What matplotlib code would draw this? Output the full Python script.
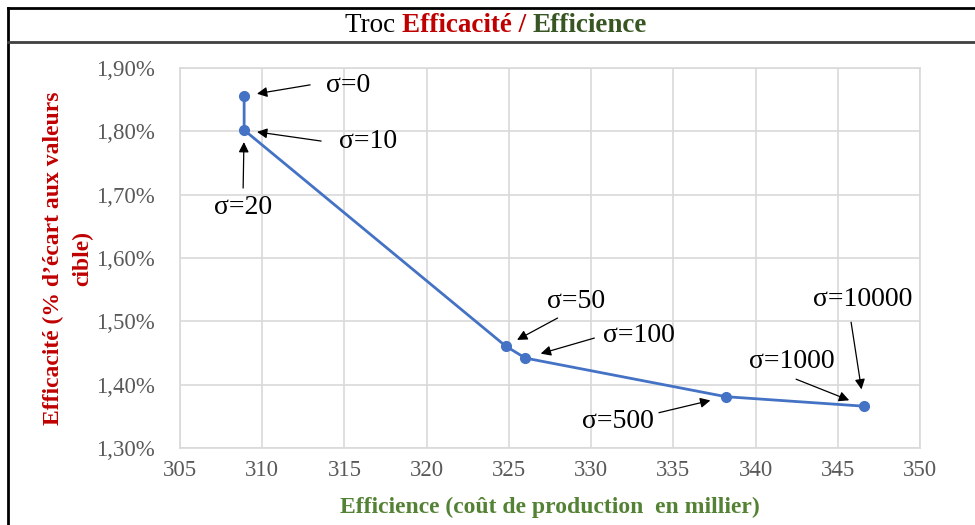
import matplotlib.pyplot as plt
from matplotlib.ticker import FuncFormatter, MultipleLocator

# Data
cout = [308.9, 308.9, 324.8, 326.0, 338.2, 346.6]
efficacite = [1.856, 1.802, 1.461, 1.442, 1.381, 1.366]

# Labels and the point each one points to
labels = ["σ=0", "σ=10", "σ=20", "σ=50", "σ=100", "σ=500", "σ=1000", "σ=10000"]
label_point = [0, 1, 1, 2, 3, 4, 5, 5]

# offsets in pixels relative to the point: text, arrow tail, arrow head
text_off = [(104, 10), (124, -11), (-1, -77), (70, 45), (114, 23), (-108, -25), (-72, 45), (-1, 107)]
tail_off = [(66, 11), (77, -11), (-1, -58), (52, 28), (69, 20), (-67, -16), (-68, 27), (-13, 84)]
head_dist = [13, 13, 12, 13, 16, 16, 16, 17]

plt.rcParams["font.family"] = ["Liberation Serif", "DejaVu Serif"]

fig = plt.figure(figsize=(9.75, 5.25), dpi=100)
ax = fig.add_axes([180 / 975, 1 - 448 / 525, 740 / 975, 380 / 525])

ax.plot(cout, efficacite, color="#4472C4", linewidth=2, marker="o", markersize=7, zorder=3)

ax.set_xlim(305, 350)
ax.set_ylim(1.30, 1.90)
ax.xaxis.set_major_locator(MultipleLocator(5))
ax.yaxis.set_major_locator(MultipleLocator(0.1))
ax.yaxis.set_major_formatter(FuncFormatter(lambda v, p: f"{v:.2f}%".replace(".", ",")))
ax.grid(True, color="#D9D9D9", linewidth=1.2)
ax.set_axisbelow(True)
for s in ax.spines.values():
    s.set_color("#D9D9D9")
    s.set_linewidth(1.2)
ax.tick_params(length=0, labelsize=16.5, colors="#595959")
ax.tick_params(axis="y", pad=18)
ax.tick_params(axis="x", pad=9)

ax.set_xlabel("Efficience (coût de production  en millier)", fontsize=17, fontweight="bold",
              color="#548235", labelpad=11)
ax.set_ylabel("Efficacité (% d’écart aux valeurs\ncible)", fontsize=17, fontweight="bold",
              color="#C00000", labelpad=2, linespacing=1.5)

for i, lab in enumerate(labels):
    p = (cout[label_point[i]], efficacite[label_point[i]])
    ax.annotate(lab, xy=p, xytext=text_off[i], textcoords="offset pixels",
                ha="center", va="center", fontsize=20)
    # arrow from the tail towards the point, stopping a little short of it
    ax.annotate("", xy=p, xytext=tail_off[i], textcoords="offset pixels",
                arrowprops=dict(arrowstyle="-|>", color="black", linewidth=0.9,
                                mutation_scale=15, shrinkA=0,
                                shrinkB=head_dist[i] * 0.72))

# frame and title box
fig.add_artist(plt.Line2D([8 / 975, 8 / 975], [0, 1 - 8 / 525], color="black", linewidth=2))
fig.add_artist(plt.Line2D([8 / 975, 1], [1 - 8 / 525, 1 - 8 / 525], color="black", linewidth=2))
fig.add_artist(plt.Line2D([8 / 975, 1], [1 - 42 / 525, 1 - 42 / 525], color="#404040", linewidth=2))

# multi-coloured title
parts = [("Troc ", "black", "normal"), ("Efficacité / ", "#C00000", "bold"),
         ("Efficience", "#375623", "bold")]
fig.canvas.draw()
r = fig.canvas.get_renderer()
texts = []
for t, c, w in parts:
    texts.append(fig.text(0, 1 - 26 / 525, t, color=c, fontweight=w, fontsize=19.5,
                          ha="left", va="center"))
widths = [tx.get_window_extent(r).width for tx in texts]
x = 496 - sum(widths) / 2
for tx, w in zip(texts, widths):
    tx.set_x(x / 975)
    x += w

fig.savefig("out.png", dpi=100)
